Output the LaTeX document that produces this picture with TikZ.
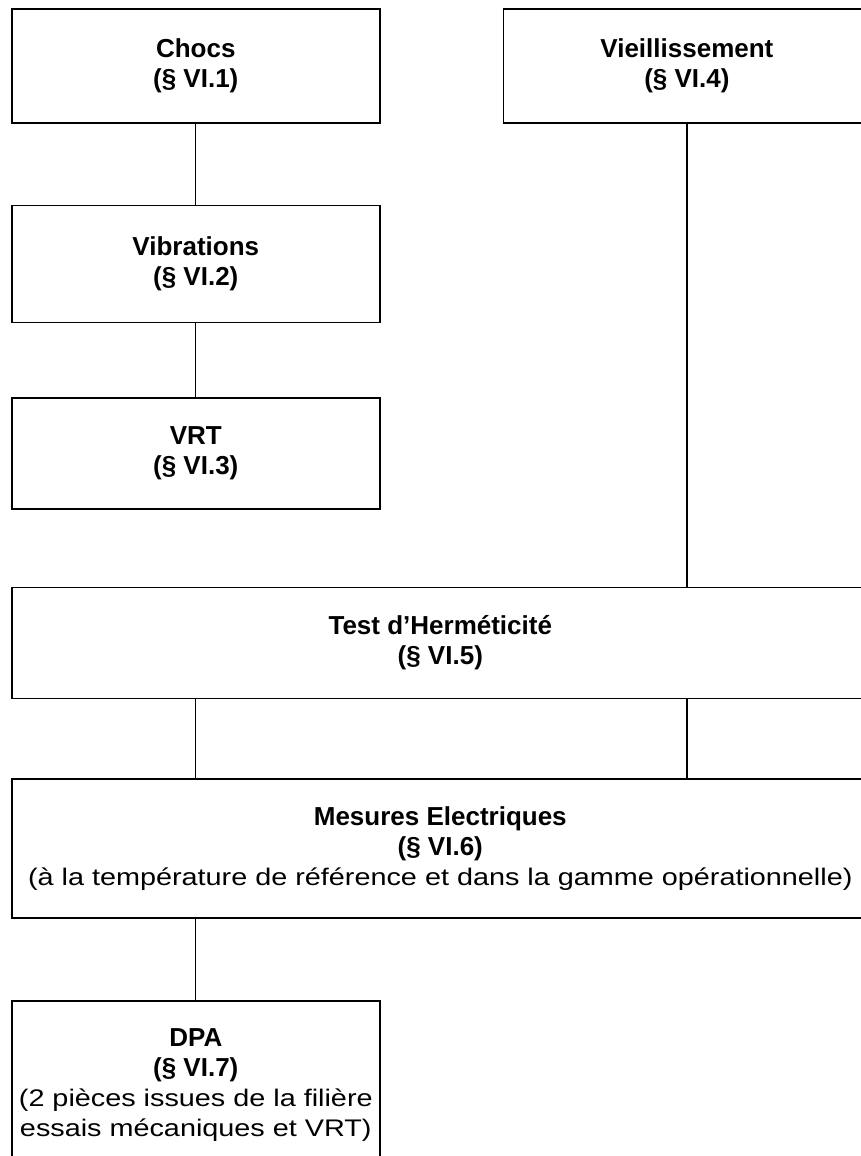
\documentclass[tikz,border=0pt]{standalone}
\usepackage{fontspec}
\setmainfont{Liberation Sans}
\newfontfamily\widetext{Liberation Sans}[FakeStretch=1.2]
\usetikzlibrary{positioning}

\newcommand{\remark}[1]{{\fontsize{24}{30}\selectfont\widetext\mdseries #1}}

\begin{document}
\begin{tikzpicture}[
        x=1pt, y=-1pt,
        box/.style={draw, line width=1.6pt, align=center, inner sep=0pt, font=\fontsize{26}{30}\selectfont\bfseries},
        leftbox/.style={box, minimum width=368pt},
        widebox/.style={box, minimum width=857pt},
        link/.style={line width=1.3pt}
    ]
    \fill[white] (0,0) rectangle (861,1156);
    \useasboundingbox (0,0) rectangle (861,1156);

    % mechanical chain
    \node[leftbox, minimum height=114pt, anchor=north west] (chocs) at (11,8) {Chocs\\(§ VI.1)};
    \node[leftbox, minimum height=117pt, below=81pt of chocs] (vib) {Vibrations\\(§ VI.2)};
    \node[leftbox, minimum height=111pt, below=74pt of vib] (vrt) {VRT\\(§ VI.3)};

    % ageing
    \node[box, minimum width=367pt, minimum height=114pt, right=122pt of chocs] (vieil) {Vieillissement\\(§ VI.4)};

    % common steps
    \node[widebox, minimum height=111pt, below=77pt of vrt.south west, anchor=north west] (herm) {Test d’Herméticité\\(§ VI.5)};
    \node[widebox, minimum height=139pt, below=79pt of herm.south west, anchor=north west] (mes) {Mesures Electriques\\(§ VI.6)\\\remark{(à la température de référence et dans la gamme opérationnelle)}};
    \node[leftbox, minimum height=168pt, below=81pt of mes.south west, anchor=north west] (dpa) {DPA\\(§ VI.7)\\\remark{(2 pièces issues de la filière}\\\remark{essais mécaniques et VRT)}};

    % Connections
    \draw[link] (chocs) -- (vib); \draw[link] (vib) -- (vrt);
    \draw[link] (vieil) -- (vieil |- herm.north);
    \draw[link] (vrt |- herm.south) -- (vrt |- mes.north);
    \draw[link] (vieil |- herm.south) -- (vieil |- mes.north);
    \draw[link] (dpa |- mes.south) -- (dpa);
\end{tikzpicture}
\end{document}
